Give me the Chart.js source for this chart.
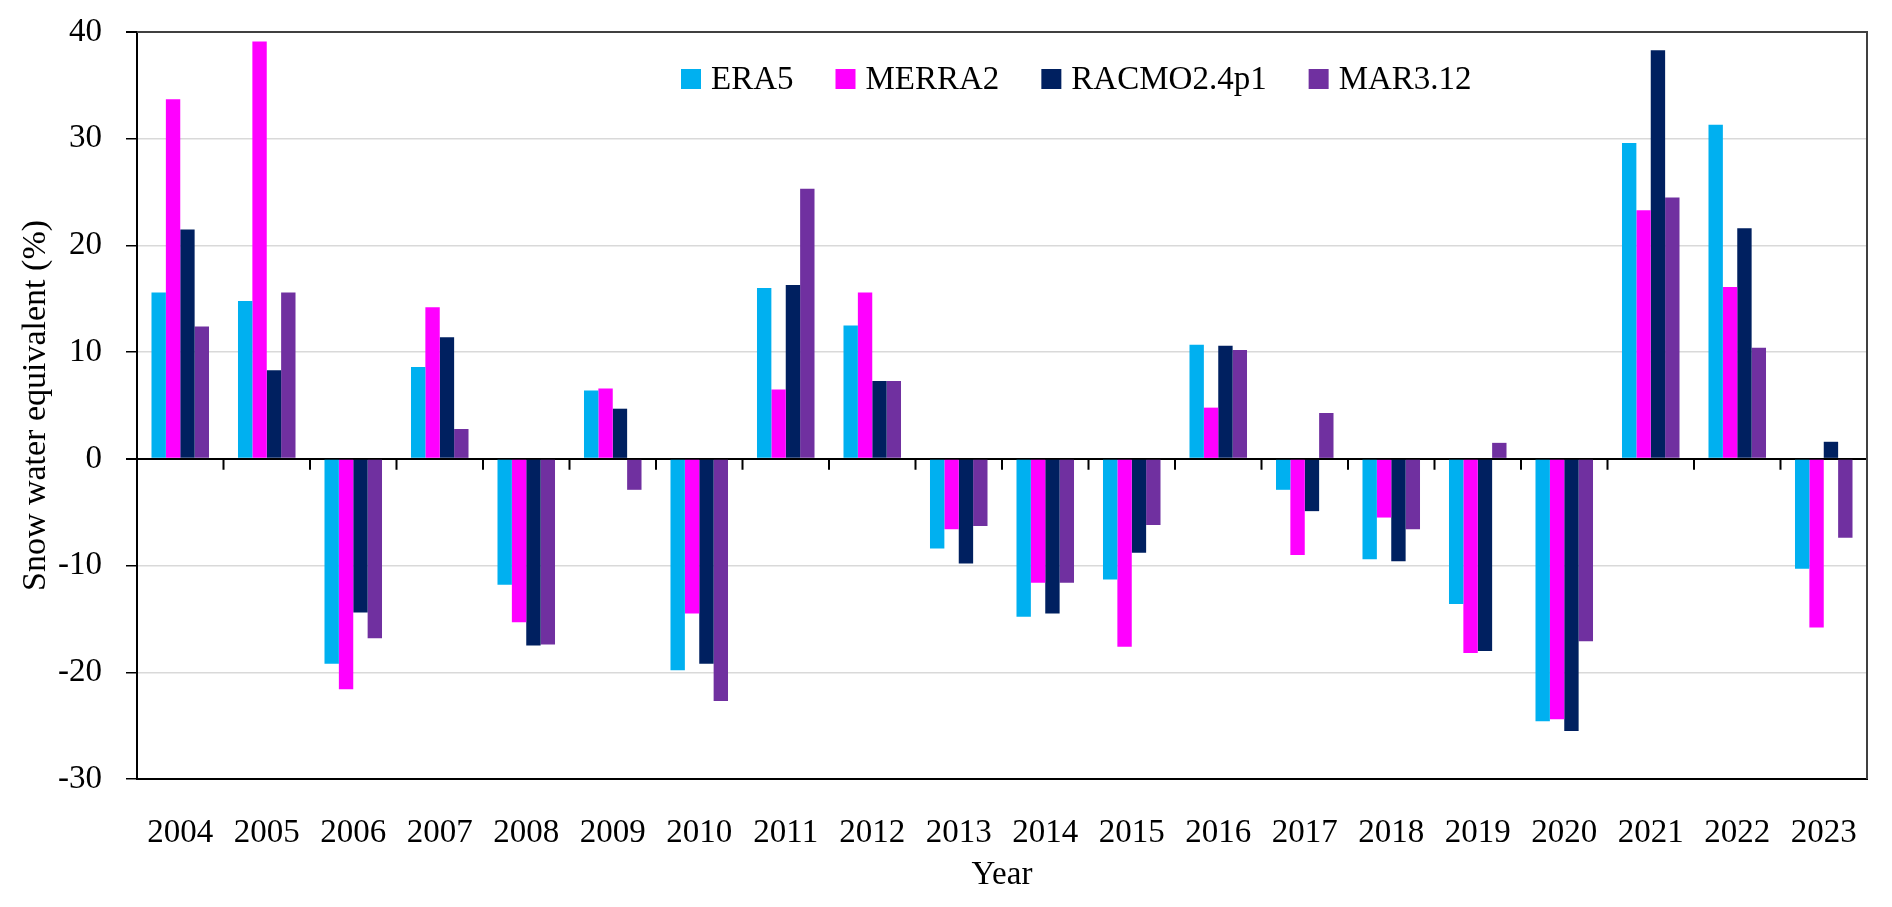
<!DOCTYPE html>
<html>
<head>
<meta charset="utf-8">
<title>Snow water equivalent anomalies 2004-2023</title>
<script src="https://cdn.jsdelivr.net/npm/chart.js@4.4.1/dist/chart.umd.min.js"></script>
<style>
  html, body { margin: 0; padding: 0; background: #fff; }
  #wrap { position: relative; width: 1892px; height: 907px; }
</style>
</head>
<body>
<div id="wrap"><canvas id="swe-chart"></canvas></div>
<script>
const years = ["2004", "2005", "2006", "2007", "2008", "2009", "2010", "2011", "2012", "2013",
  "2014", "2015", "2016", "2017", "2018", "2019", "2020", "2021", "2022", "2023"];

const era5 = [15.6, 14.8, -19.2, 8.6, -11.8, 6.4, -19.8, 16.0, 12.5, -8.4,
  -14.8, -11.3, 10.7, -2.9, -9.4, -13.6, -24.6, 29.6, 31.3, -10.3];
const merra2 = [33.7, 39.1, -21.6, 14.2, -15.3, 6.6, -14.5, 6.5, 15.6, -6.6,
  -11.6, -17.6, 4.8, -9.0, -5.5, -18.2, -24.4, 23.3, 16.1, -15.8];
const racmo = [21.5, 8.3, -14.4, 11.4, -17.5, 4.7, -19.2, 16.3, 7.3, -9.8,
  -14.5, -8.8, 10.6, -4.9, -9.6, -18.0, -25.5, 38.3, 21.6, 1.6];
const mar = [12.4, 15.6, -16.8, 2.8, -17.4, -2.9, -22.7, 25.3, 7.3, -6.3,
  -11.6, -6.2, 10.2, 4.3, -6.6, 1.5, -17.1, 24.5, 10.4, -7.4];

const yTicks = [-30, -20, -10, 0, 10, 20, 30, 40];

const FONT = '"Liberation Serif", "Times New Roman", serif';
const GRID = "#d9d9d9";

// plot frame, zero-line ticks and the in-plot legend
const framePlugin = {
  id: "frame",
  afterDraw(chart) {
    const { ctx, chartArea: a, scales } = chart;
    ctx.save();
    ctx.strokeStyle = "#404040";
    ctx.lineWidth = 2;
    ctx.beginPath();
    ctx.moveTo(a.left, a.top);
    ctx.lineTo(a.right, a.top);
    ctx.lineTo(a.right, a.bottom);
    ctx.stroke();

    const y0 = scales.y.getPixelForValue(0);
    ctx.strokeStyle = "#000";
    ctx.beginPath();
    for (let i = 0; i < years.length - 1; i++) {
      const x = (scales.x.getPixelForValue(i) + scales.x.getPixelForValue(i + 1)) / 2;
      ctx.moveTo(x, y0);
      ctx.lineTo(x, y0 + 11);
    }
    ctx.stroke();

    // legend: one row inside the plot, a bit right of centre
    ctx.font = `33px ${FONT}`;
    ctx.textBaseline = "middle";
    ctx.textAlign = "left";
    let x = a.left + 544;
    const yc = a.top + 47;
    chart.data.datasets.forEach((ds) => {
      ctx.fillStyle = ds.backgroundColor;
      ctx.fillRect(x, yc - 10, 20, 20);
      ctx.fillStyle = "#000";
      ctx.fillText(ds.label, x + 30, yc + 1);
      x += 30 + ctx.measureText(ds.label).width + 42;
    });
    ctx.restore();
  },
};

function bars(label, data, color) {
  return {
    label,
    data,
    backgroundColor: color,
    borderWidth: 0,
    barPercentage: 1,
    categoryPercentage: 0.665,
  };
}

new Chart(document.getElementById("swe-chart"), {
  type: "bar",
  data: {
    labels: years,
    datasets: [
      bars("ERA5", era5, "#00b0f0"),
      bars("MERRA2", merra2, "#ff00ff"),
      bars("RACMO2.4p1", racmo, "#002060"),
      bars("MAR3.12", mar, "#7030a0"),
    ],
  },
  options: {
    responsive: true,
    maintainAspectRatio: false,
    animation: false,
    layout: { padding: { top: 32, right: 25, left: 0, bottom: 0 } },
    plugins: {
      tooltip: { enabled: false },
      legend: { display: false },
    },
    scales: {
      x: {
        grid: { display: false, drawTicks: false },
        border: { display: true, color: "#000", width: 2 },
        ticks: {
          color: "#000",
          font: { family: FONT, size: 33 },
          autoSkip: false,
          maxRotation: 0,
          padding: 35,
        },
        title: {
          display: true,
          text: "Year",
          color: "#000",
          font: { family: FONT, size: 33 },
          padding: { top: 0, bottom: 12 },
        },
        afterFit(scale) {
          scale.height = 128;
          scale.paddingLeft = 0;
          scale.paddingRight = 0;
        },
      },
      y: {
        min: -30,
        max: 40,
        afterBuildTicks(scale) { scale.ticks = yTicks.map((v) => ({ value: v })); },
        grid: {
          color: (c) => (c.tick && c.tick.value === 0 ? "#000" : c.tick && c.tick.value === 40 ? "#404040" : GRID),
          lineWidth: (c) => (c.tick && (c.tick.value === 0 || c.tick.value === 40) ? 2 : 1.5),
          tickColor: "#000",
          tickLength: 11,
          drawTicks: true,
        },
        border: { display: true, color: "#000", width: 2 },
        ticks: {
          color: "#000",
          font: { family: FONT, size: 33 },
          padding: 24,
        },
        title: {
          display: true,
          text: "Snow water equivalent (%)",
          color: "#000",
          font: { family: FONT, size: 34 },
          padding: { top: 16, bottom: 0 },
        },
        afterFit(scale) {
          scale.width = 137;
          scale.paddingTop = 0;
          scale.paddingBottom = 0;
        },
      },
    },
  },
  plugins: [framePlugin],
});
</script>
</body>
</html>
